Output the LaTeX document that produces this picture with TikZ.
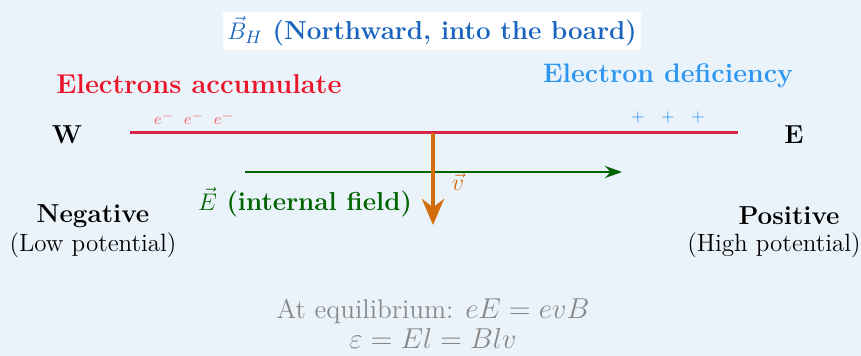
\documentclass[tikz,border=0pt]{standalone}
\usepackage{amsmath, amssymb}
\usepackage{xcolor}
\usetikzlibrary{positioning, arrows.meta}
\definecolor{bgblue}{RGB}{235,243,250}
\definecolor{titleblue}{RGB}{25,100,190}
\definecolor{accred}{RGB}{235,20,40}
\definecolor{defblue}{RGB}{45,150,240}
\definecolor{rodred}{RGB}{215,35,70}
\definecolor{chargered}{RGB}{240,100,110}
\definecolor{fieldgreen}{RGB}{0,100,0}
\definecolor{velorange}{RGB}{210,110,10}
\definecolor{eqgray}{RGB}{135,135,135}

\begin{document}
\begin{tikzpicture}[x=0.5pt, y=-0.5pt,
  lbl/.style={inner sep=1pt, font=\fontsize{12.5}{15}\selectfont},
  heading/.style={inner sep=1pt, font=\bfseries\fontsize{13}{15}\selectfont},
  charge/.style={inner sep=0pt, font=\footnotesize},
  rod/.style={line width=1.5pt, color=rodred},
  fieldarr/.style={-{Stealth[length=8.5pt, width=6pt]}, line width=1pt, color=fieldgreen},
  velarr/.style={-{Stealth[length=13pt, width=11pt]}, line width=2pt, color=velorange}]
  % background and bounds
  \fill[bgblue] (0,0) rectangle (861,356);
  \useasboundingbox (0,0) rectangle (861,356);
  % field label at top
  \node[heading, fill=white, inner sep=2pt, text=titleblue] (title) at (432,31) {$\vec{B}_H$ (Northward, into the board)};
  \node[heading, font=\bfseries\fontsize{13.6}{16}\selectfont, text=accred] (accum) at (199,84) {Electrons accumulate};
  \node[heading, font=\bfseries\fontsize{13.4}{16}\selectfont, text=defblue] (defic) at (668,76) {Electron deficiency};
  % the rod
  \coordinate (rodW) at (130,133);
  \coordinate (rodE) at (738,133);
  \draw[rod] (rodW) -- (rodE);
  \node[heading] (west) at (67,135) {W};
  \node[heading] (east) at (794,135) {E};
  \foreach \x/\n in {164/1, 194/2, 224/3}
    \node[charge, text=chargered] (neg\n) at (\x,118) {$e^-$};
  \foreach \x/\n in {638/1, 668/2, 698/3}
    \node[charge, text=defblue] (pos\n) at (\x,118) {$+$};
  % internal field and velocity
  \coordinate (fieldS) at (245,172);
  \coordinate (fieldT) at (622,172);
  \draw[fieldarr] (fieldS) -- (fieldT);
  \coordinate (velS) at (433,133);
  \coordinate (velT) at (433,225);
  \draw[velarr] (velS) -- (velT);
  \node[lbl, text=velorange] (vel) at (458,182) {$\vec{v}$};
  \node[heading, text=fieldgreen] (efield) at (305,202) {$\vec{E}$ (internal field)};
  % potentials
  \node[heading] (negative) at (93,216) {Negative};
  \node[lbl] (lowpot) at (93,245) {(Low potential)};
  \node[heading] (positive) at (789,216) {Positive};
  \node[lbl] (highpot) at (774,245) {(High potential)};
  % equilibrium
  \node[lbl, font=\fontsize{13.5}{15}\selectfont, text=eqgray, align=center] (equil) at (433,324) {At equilibrium: $eE = evB$\\[0pt] $\varepsilon = El = Blv$};
\end{tikzpicture}
\end{document}
